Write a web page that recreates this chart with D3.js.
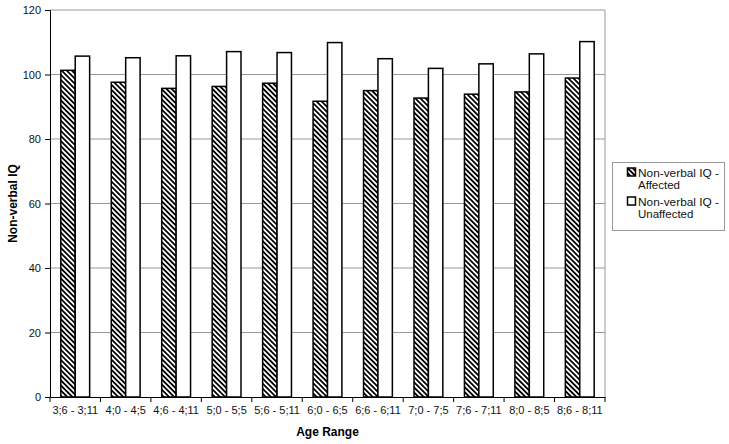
<!DOCTYPE html>
<html><head><meta charset="utf-8">
<script src="https://cdn.jsdelivr.net/npm/d3@7"></script>
<style>body{margin:0;background:#fff}svg{display:block}text{font-family:"Liberation Sans",Arial,sans-serif}</style>
</head><body><svg id="c" width="729" height="444"></svg>
<script>
const categories = ["3;6 - 3;11","4;0 - 4;5","4;6 - 4;11","5;0 - 5;5","5;6 - 5;11","6;0 - 6;5","6;6 - 6;11","7;0 - 7;5","7;6 - 7;11","8;0 - 8;5","8;6 - 8;11"];
const affected = [101.3, 97.6, 95.7, 96.3, 97.3, 91.7, 95.0, 92.7, 93.9, 94.6, 98.9];
const unaffected = [105.7, 105.2, 105.8, 107.1, 106.8, 109.9, 104.9, 101.9, 103.3, 106.4, 110.2];
const seriesNames = ["Non-verbal IQ - Affected", "Non-verbal IQ - Unaffected"];
const yTicks = [0, 20, 40, 60, 80, 100, 120];

const svg = d3.select("#c");
const m = {l: 50, r: 605, t: 10, b: 397};
const defs = svg.append("defs");
const pat = defs.append("pattern").attr("id","hatch").attr("patternUnits","userSpaceOnUse")
  .attr("width",3.6).attr("height",3.6).attr("patternTransform","rotate(-45)");
pat.append("rect").attr("width",3.6).attr("height",3.6).attr("fill","#fff");
pat.append("rect").attr("width",1.8).attr("height",3.6).attr("fill","#000");

const x = d3.scaleBand().domain(categories).range([m.l, m.r]).paddingInner(0).paddingOuter(0);
const bw = x.bandwidth() / 3.5;
const y = d3.scaleLinear().domain([0,120]).range([m.b, m.t]);

svg.append("g").selectAll("line").data(yTicks.filter(d=>d>0)).join("line")
  .attr("x1",m.l).attr("x2",m.r).attr("y1",d=>y(d)).attr("y2",d=>y(d))
  .attr("stroke","#999").attr("stroke-width",1);
svg.append("line").attr("x1",m.r).attr("x2",m.r).attr("y1",m.t).attr("y2",m.b).attr("stroke","#999");

const data = categories.map((c,i)=>({c, a: affected[i], u: unaffected[i]}));
const g = svg.append("g");
g.selectAll("rect.a").data(data).join("rect").attr("class","a")
  .attr("x",d=>x(d.c)+x.bandwidth()/2-bw).attr("width",bw)
  .attr("y",d=>y(d.a)).attr("height",d=>y(0)-y(d.a))
  .attr("fill","url(#hatch)").attr("stroke","#000").attr("stroke-width",1.5);
g.selectAll("rect.u").data(data).join("rect").attr("class","u")
  .attr("x",d=>x(d.c)+x.bandwidth()/2).attr("width",bw)
  .attr("y",d=>y(d.u)).attr("height",d=>y(0)-y(d.u))
  .attr("fill","#fff").attr("stroke","#000").attr("stroke-width",1.5);

const ya = svg.append("g").attr("transform",`translate(${m.l},0)`)
  .call(d3.axisLeft(y).tickValues(yTicks).tickSize(5).tickPadding(4));
ya.select(".domain").attr("stroke","#000");
ya.selectAll("text").attr("font-size",11).attr("fill","#111").style("font-family","Liberation Sans, Arial, sans-serif");

const xa = svg.append("g").attr("transform",`translate(0,${m.b})`)
  .call(d3.axisBottom(x).tickSize(0).tickPadding(9).tickSizeOuter(0));
xa.select(".domain").attr("stroke","#000");
xa.selectAll("text").attr("font-size",11).attr("fill","#111").style("font-family","Liberation Sans, Arial, sans-serif");
svg.append("g").selectAll("line").data(categories).join("line")
  .attr("x1",d=>x(d)).attr("x2",d=>x(d)).attr("y1",m.b).attr("y2",m.b+5).attr("stroke","#000");
svg.append("line").attr("x1",m.r).attr("x2",m.r).attr("y1",m.b).attr("y2",m.b+5).attr("stroke","#000");

svg.append("text").attr("x",(m.l+m.r)/2).attr("y",436).attr("text-anchor","middle")
  .attr("font-size",12).attr("font-weight","bold").text("Age Range");
svg.append("text").attr("transform",`translate(17,${(m.t+m.b)/2}) rotate(-90)`).attr("text-anchor","middle")
  .attr("font-size",12).attr("font-weight","bold").text("Non-verbal IQ");

const lg = svg.append("g");
lg.append("rect").attr("x",612.5).attr("y",162.5).attr("width",112).attr("height",68)
  .attr("fill","#fff").attr("stroke","#999");
const fills = ["url(#hatch)","#fff"];
seriesNames.forEach((n,i)=>{
  const yy = 168 + i*29;
  lg.append("rect").attr("x",627.5).attr("y",yy).attr("width",8).attr("height",8)
    .attr("fill",fills[i]).attr("stroke","#000").attr("stroke-width",1.5);
  const parts = n.split(" - ");
  lg.append("text").attr("x",638).attr("y",yy+8.5).attr("font-size",11.5).attr("fill","#111")
    .attr("textLength",81).attr("lengthAdjust","spacingAndGlyphs").text(parts[0] + " -");
  lg.append("text").attr("x",638).attr("y",yy+20.5).attr("font-size",11.5).attr("fill","#111")
    .text(parts[1]);
});
</script></body></html>
